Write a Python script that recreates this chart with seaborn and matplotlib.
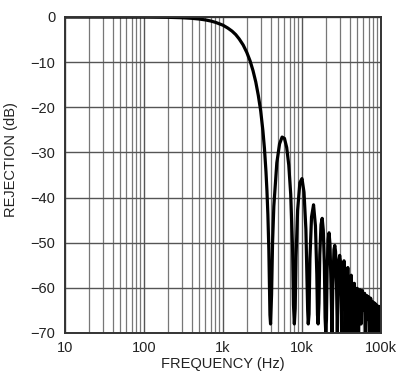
import matplotlib
matplotlib.use("Agg")
import matplotlib.pyplot as plt
import seaborn as sns
import pandas as pd
from matplotlib.ticker import FixedLocator, LogLocator, NullFormatter

# ---- data ----
freq_hz = [
    10, 50, 100, 200, 300, 400, 500, 600, 700, 800, 1000, 1150, 1300, 1450, 1600,
    1800, 2000, 2200, 2400, 2600, 2800, 3000, 3200, 3350, 3500, 3600, 3700, 3800,
    3870, 3930, 4000,
    4120, 4240, 4400, 4800, 5200, 5600, 6000, 6400, 6800, 7200, 7600, 7800, 8000,
    8200, 8400, 8800, 9400, 10000, 10600, 11200, 11600, 11800, 12000,
    12280, 12600, 13200, 14000, 14800, 15400, 15700, 16000,
    16400, 16800, 17400, 18000, 18600, 19200, 19600, 20000,
    20400, 20800, 21400, 22000, 22600, 23200, 24000,
    24600, 25400, 26000, 26600, 27400, 28000,
    28600, 29400, 30000, 30600, 31400, 32000,
    32700, 34000, 35300, 36000,
    36700, 38000, 39300, 40000,
    40800, 42000, 43200, 44000,
    46000, 48000, 50000, 52000, 54000, 56000, 58000, 60000, 62000, 64000,
    66000, 68000, 70000, 72000, 74000, 76000, 78000, 80000, 82000, 84000,
    86000, 88000, 90000, 92000, 94000, 96000, 98000, 100000,
]
rejection_db = [
    0.0, 0.0, -0.02, -0.07, -0.16, -0.29, -0.45, -0.65, -0.89, -1.17, -1.82, -2.45,
    -3.12, -3.9, -4.84, -6.2, -7.84, -9.7, -11.9, -14.4, -17.4, -20.8, -25.2, -29.2,
    -34.3, -38.5, -43.8, -51.2, -59.0, -66.0, -68.0,
    -61.5, -50.0, -41.9, -32.3, -28.1, -26.6, -26.9, -28.9, -32.8, -39.3, -51.4, -63.7, -68.0,
    -64.6, -53.2, -42.8, -36.7, -35.8, -38.8, -47.0, -58.8, -65.0, -68.0,
    -65.8, -53.5, -44.3, -41.6, -46.3, -57.0, -66.0, -68.0,
    -63.4, -52.6, -46.0, -44.6, -47.2, -55.0, -66.6, -70.0,
    -67.0, -56.1, -49.3, -47.8, -50.3, -57.9, -70.0,
    -59.0, -51.5, -50.6, -52.0, -60.0, -70.0,
    -61.0, -53.7, -52.8, -54.0, -62.0, -70.0,
    -60.0, -54.0, -61.0, -70.0,
    -62.0, -55.5, -62.0, -70.0,
    -63.0, -57.2, -63.0, -70.0,
    -59.0, -70.0, -60.1, -70.0, -60.4, -68.0, -60.6, -65.0, -61.2, -70.0,
    -61.7, -67.0, -62.0, -70.0, -62.3, -70.0, -63.0, -66.0, -63.3, -70.0,
    -63.6, -70.0, -64.0, -68.0, -64.1, -70.0, -64.3, -66.0,
]
x_ticks = [10, 100, 1000, 10000, 100000]
x_tick_labels = ["10", "100", "1k", "10k", "100k"]
y_ticks = [0, -10, -20, -30, -40, -50, -60, -70]

df = pd.DataFrame({"freq": freq_hz, "db": rejection_db})

sns.set_style("white")
plt.rcParams["font.family"] = ["Liberation Sans Narrow", "Liberation Sans", "DejaVu Sans"]
plt.rcParams["axes.unicode_minus"] = True

fig = plt.figure(figsize=(4.03, 3.87), dpi=100)
ax = fig.add_axes([65 / 403, 54 / 387, 316 / 403, 316 / 387])

sns.lineplot(data=df, x="freq", y="db", ax=ax, color="black", linewidth=2.3,
             estimator=None, sort=False)

ax.set_xscale("log")
ax.set_xlim(10, 100000)
ax.set_ylim(-70, 0)

ax.xaxis.set_major_locator(FixedLocator(x_ticks))
ax.set_xticklabels(x_tick_labels)
ax.xaxis.set_minor_locator(LogLocator(base=10, subs=range(2, 10), numticks=20))
ax.xaxis.set_minor_formatter(NullFormatter())
ax.set_yticks(y_ticks)
ax.set_yticklabels([f"{v}".replace("-", "\u2212") for v in y_ticks])

ax.grid(True, which="major", axis="both", color="#555555", linewidth=1.0)
ax.grid(True, which="minor", axis="x", color="#777777", linewidth=0.9)
ax.set_axisbelow(True)

ax.tick_params(axis="both", which="both", length=0, labelsize=10.5, colors="#222222")
ax.tick_params(axis="x", pad=6)
ax.tick_params(axis="y", pad=7)

for s in ax.spines.values():
    s.set_color("#333333")
    s.set_linewidth(1.4)

ax.set_xlabel("FREQUENCY (Hz)", fontsize=10.5, color="#222222")
ax.set_ylabel("REJECTION (dB)", fontsize=10.5, color="#222222")
ax.xaxis.set_label_coords(0.5, -0.075)
ax.yaxis.set_label_coords(-0.15, 0.55)

fig.savefig("out.png", dpi=100)
